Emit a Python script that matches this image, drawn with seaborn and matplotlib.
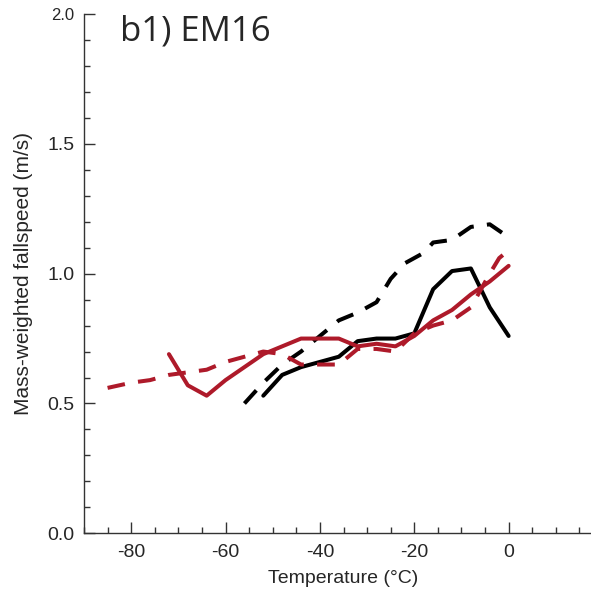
import numpy as np
import pandas as pd
import matplotlib
matplotlib.use("Agg")
import matplotlib.pyplot as plt
import seaborn as sns
from matplotlib.ticker import MultipleLocator

sns.set_style("ticks")
plt.rcParams['font.family'] = ['Liberation Sans', 'DejaVu Sans']

# ---- data ----
black_solid_T = [-52, -48, -44, -40, -36, -32, -28, -24, -20, -16, -12, -8, -4, 0]
black_solid_V = [0.53, 0.61, 0.64, 0.66, 0.68, 0.74, 0.75, 0.75, 0.77, 0.94, 1.01, 1.02, 0.87, 0.76]

black_dash_T = [-56, -52, -48, -44, -40, -36, -32, -28, -25, -22, -18, -16, -12, -8, -4, 0]
black_dash_V = [0.50, 0.58, 0.65, 0.70, 0.76, 0.82, 0.85, 0.89, 0.98, 1.04, 1.08, 1.12, 1.13, 1.18, 1.19, 1.14]

red_solid_T = [-72, -68, -64, -60, -56, -52, -48, -44, -40, -36, -32, -28, -24, -20, -16, -12, -8, -4, 0]
red_solid_V = [0.69, 0.57, 0.53, 0.59, 0.64, 0.69, 0.72, 0.75, 0.75, 0.75, 0.72, 0.73, 0.72, 0.76, 0.82, 0.86, 0.92, 0.97, 1.03]

red_dash_T = [-85, -80, -76, -72, -68, -64, -60, -56, -52, -48, -44, -40, -36, -32, -28, -24, -20, -16, -12, -8, -4, -2, 0]
red_dash_V = [0.56, 0.58, 0.59, 0.61, 0.62, 0.63, 0.66, 0.68, 0.70, 0.69, 0.65, 0.65, 0.65, 0.71, 0.71, 0.70, 0.77, 0.80, 0.82, 0.87, 1.00, 1.06, 1.09]

x_ticks = [-80, -60, -40, -20, 0, 20]
y_ticks = [0.0, 0.5, 1.0, 1.5, 2.0]

RED = "#ae1a2a"
BLACK = "#000000"

fig = plt.figure(figsize=(5.91, 5.91), dpi=100)
ax = fig.add_axes([84/591, 1 - 533.3/591, (603 - 84)/591, (533.3 - 14)/591])

lw = 2.9
dash = (0, (4.4, 3.3))
series = [
    (black_solid_T, black_solid_V, BLACK, '-'),
    (black_dash_T, black_dash_V, BLACK, dash),
    (red_solid_T, red_solid_V, RED, '-'),
    (red_dash_T, red_dash_V, RED, dash),
]
for T, V, c, ls in series:
    df = pd.DataFrame({"T": T, "V": V})
    sns.lineplot(data=df, x="T", y="V", ax=ax, color=c, linewidth=lw,
                 linestyle=ls, sort=False, estimator=None)

ax.set_xlim(-90, 20)
ax.set_ylim(0, 2.0)
ax.set_xticks(x_ticks)
ax.set_xticklabels([str(t) for t in x_ticks])
ax.set_yticks(y_ticks)
ax.set_yticklabels([f"{t:.1f}" for t in y_ticks])
ax.xaxis.set_minor_locator(MultipleLocator(5))
ax.yaxis.set_minor_locator(MultipleLocator(0.1))
ax.tick_params(axis='both', which='major', direction='in', length=8, width=1.0,
               labelsize=14, color='#333333')
ax.tick_params(axis='x', which='major', pad=8)
ax.tick_params(axis='y', which='major', pad=7)
ax.tick_params(axis='both', which='minor', direction='in', length=4, width=1.0,
               color='#333333')
ax.yaxis.get_ticklabels()[-1].set_fontsize(12)
for s in ['top', 'right']:
    ax.spines[s].set_visible(False)
for s in ['left', 'bottom']:
    ax.spines[s].set_linewidth(1.0)
    ax.spines[s].set_color('#333333')

ax.set_xlabel("Temperature (\u00b0C)", fontsize=14, labelpad=6)
ax.set_ylabel("Mass-weighted fallspeed (m/s)", fontsize=15, labelpad=10)

fig.text(120/591, 1 - 40/591, "b1) EM16", fontsize=25, family=['Open Sans', 'DejaVu Sans'],
         ha='left', va='baseline')

fig.savefig("out.png", dpi=100)
